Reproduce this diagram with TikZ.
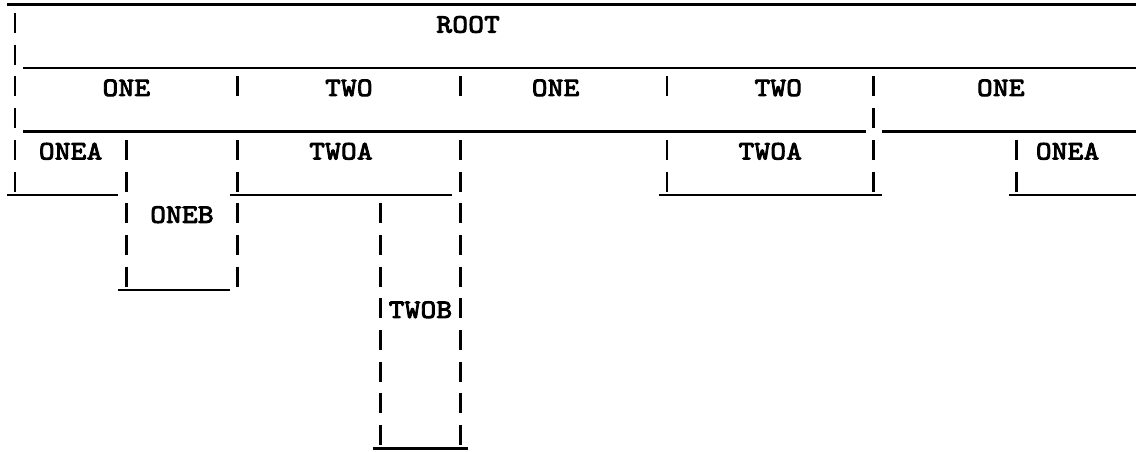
\documentclass[tikz,border=0pt]{standalone}
\usepackage{fontspec}
\newfontfamily\typew[LetterSpace=1.2, FakeBold=3.5, FakeStretch=1.12, Extension=.otf]{lmmono10-regular}
\newcommand\colx[1]{15+15.9*(#1)}
\newcommand\liney[1]{23+31.7*(#1)}
\newcommand\vbarat[2]{\draw[vbar] ({\colx{#1}},{\liney{#2}-10}) -- ++(0,20);}
\newcommand\ruleat[3]{\draw[rulel] ({\colx{#1-0.5}},{\liney{#3}+13.3}) -- ({\colx{#2+0.5}},{\liney{#3}+13.3});}
\tikzset{
  vbar/.style={line width=2.6pt, black},
  rulel/.style={line width=2.4pt, black},
  lbl/.style={font=\typew\fontsize{26.5}{30}\selectfont, inner sep=0pt, anchor=center}
}
\begin{document}
\begin{tikzpicture}[x=1pt,y=-1pt]
\useasboundingbox (0,0) rectangle (1138,452);
% horizontal rules: from col, to col, after line
\ruleat{0}{70}{-1}
\ruleat{1}{70}{1}
\ruleat{1}{53}{3}
\ruleat{55}{70}{3}
\ruleat{0}{6}{5}
\ruleat{14}{27}{5}
\ruleat{41}{54}{5}
\ruleat{63}{70}{5}
\ruleat{7}{13}{8}
\ruleat{23}{28}{13}
% vertical bars: column, line
\foreach \l in {0,...,5} {\vbarat{0}{\l}}
\foreach \l in {4,...,8} {\vbarat{7}{\l}}
\foreach \l in {2,4,5,6,7,8} {\vbarat{14}{\l}}
\foreach \l in {6,...,13} {\vbarat{23}{\l}}
\foreach \l in {2,4,5,6,7,8,9,10,11,12,13} {\vbarat{28}{\l}}
\foreach \l in {2,4,5} {\vbarat{41}{\l}}
\foreach \l in {2,3,4,5} {\vbarat{54}{\l}}
\foreach \l in {4,5} {\vbarat{63}{\l}}
% labels
\node[lbl] (root) at ({\colx{28.5}},{\liney{0}+1.5}) {ROOT};
\node[lbl] (one1) at ({\colx{7}},{\liney{2}+1.5}) {ONE};
\node[lbl] (two1) at ({\colx{21}},{\liney{2}+1.5}) {TWO};
\node[lbl] (one2) at ({\colx{34}},{\liney{2}+1.5}) {ONE};
\node[lbl] (two2) at ({\colx{48}},{\liney{2}+1.5}) {TWO};
\node[lbl] (one3) at ({\colx{62}},{\liney{2}+1.5}) {ONE};
\node[lbl] (onea1) at ({\colx{3.5}},{\liney{4}+1.5}) {ONEA};
\node[lbl] (twoa1) at ({\colx{20.5}},{\liney{4}+1.5}) {TWOA};
\node[lbl] (twoa2) at ({\colx{47.5}},{\liney{4}+1.5}) {TWOA};
\node[lbl] (onea2) at ({\colx{66.2}},{\liney{4}+1.5}) {ONEA};
\node[lbl] (oneb) at ({\colx{10.5}},{\liney{6}+1.5}) {ONEB};
\node[lbl] (twob) at ({\colx{25.5}},{\liney{9}+1.5}) {TWOB};
\end{tikzpicture}
\end{document}
